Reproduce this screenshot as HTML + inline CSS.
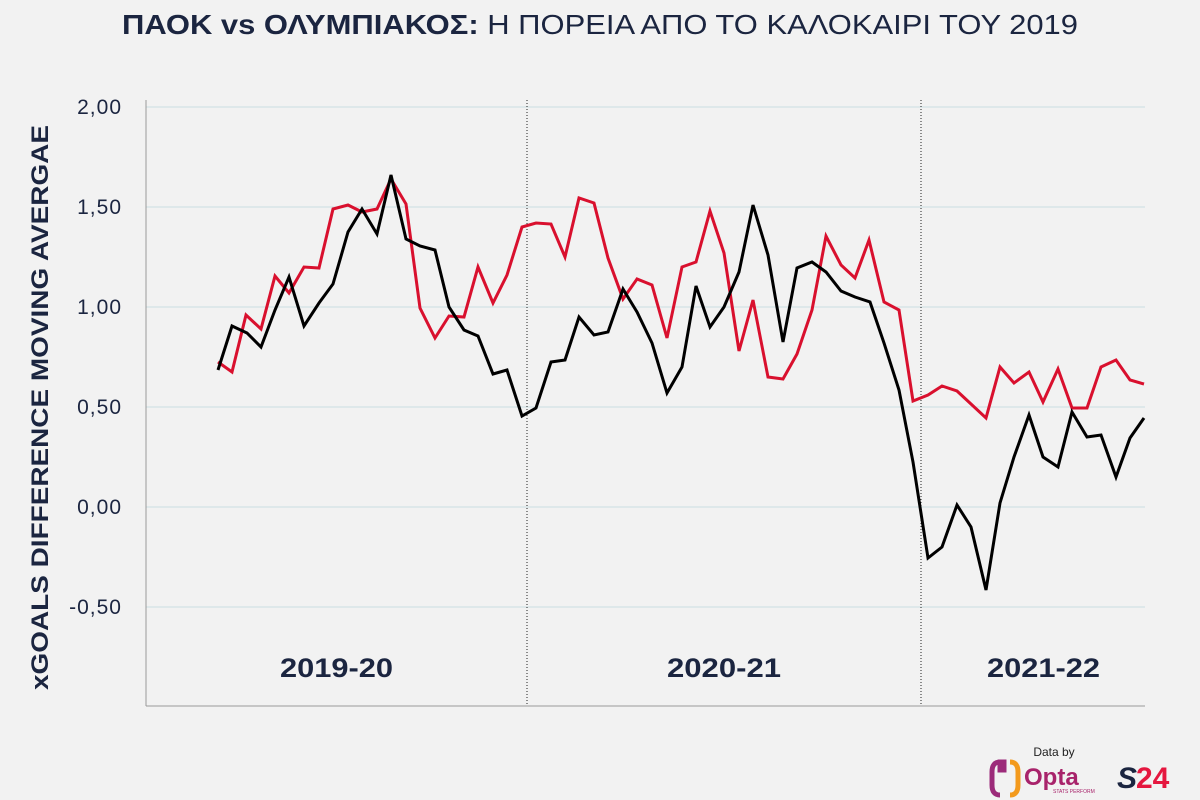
<!DOCTYPE html>
<html><head><meta charset="utf-8"><style>
body{margin:0;background:#f2f2f2;}
svg{display:block;font-family:"Liberation Sans","DejaVu Sans",sans-serif;}
</style></head><body>
<svg width="1200" height="800" viewBox="0 0 1200 800">
<rect width="1200" height="800" fill="#f2f2f2"/>
<text x="122" y="34" font-size="28" fill="#1b2540" textLength="956" lengthAdjust="spacingAndGlyphs"><tspan font-weight="bold">ΠΑΟΚ vs ΟΛΥΜΠΙΑΚΟΣ:</tspan> Η ΠΟΡΕΙΑ ΑΠΟ ΤΟ ΚΑΛΟΚΑΙΡΙ ΤΟΥ 2019</text>
<g stroke="#c9dfe3" stroke-width="1">
<line x1="146" y1="107" x2="1145" y2="107"/>
<line x1="146" y1="207" x2="1145" y2="207"/>
<line x1="146" y1="307" x2="1145" y2="307"/>
<line x1="146" y1="407" x2="1145" y2="407"/>
<line x1="146" y1="507" x2="1145" y2="507"/>
<line x1="146" y1="607" x2="1145" y2="607"/>
</g>
<line x1="146" y1="100" x2="146" y2="706" stroke="#999" stroke-width="1"/>
<line x1="146" y1="706" x2="1145" y2="706" stroke="#999" stroke-width="1"/>
<line x1="527" y1="100" x2="527" y2="706" stroke="#222" stroke-width="1" stroke-dasharray="1,2"/>
<line x1="921" y1="100" x2="921" y2="706" stroke="#222" stroke-width="1" stroke-dasharray="1,2"/>
<g font-size="21" fill="#1b2540" text-anchor="end" letter-spacing="1">
<text x="122" y="114">2,00</text>
<text x="122" y="214">1,50</text>
<text x="122" y="314">1,00</text>
<text x="122" y="414">0,50</text>
<text x="122" y="514">0,00</text>
<text x="122" y="614">-0,50</text>
</g>
<text transform="translate(48,690) rotate(-90)" font-size="24" font-weight="bold" fill="#1b2540" textLength="565" lengthAdjust="spacingAndGlyphs">xGOALS DIFFERENCE MOVING AVERGAE</text>
<g font-size="27" font-weight="bold" fill="#1b2540">
<text x="280" y="677" textLength="113" lengthAdjust="spacingAndGlyphs">2019-20</text>
<text x="667" y="677" textLength="114" lengthAdjust="spacingAndGlyphs">2020-21</text>
<text x="987" y="677" textLength="113" lengthAdjust="spacingAndGlyphs">2021-22</text>
</g>
<polyline fill="none" stroke="#d9102e" stroke-width="3" stroke-linejoin="miter" points="218,362 232,372 246,315 261,329 275,276 289,293 304,267 319,268 333,209 348,205 362,212 377,209 391,179 406,204 420,308 435,338 449,316 464,317 478,267 493,303 507,275 522,227 536,223 551,224 565,257 579,198 594,203 608,258 623,299 637,279 652,285 667,338 682,267 696,262 710,211 724,253 739,351 753,300 768,377 783,379 797,354 812,310 826,236 841,265 855,278 869,240 884,302 899,310 913,401 928,395 942,386 957,391 971,404 986,418 1000,367 1014,383 1029,372 1043,402 1058,369 1072,408 1087,408 1101,367 1116,360 1130,380 1144,384"/>
<polyline fill="none" stroke="#000" stroke-width="3" stroke-linejoin="miter" points="218,370 232,326 247,333 261,347 275,310 289,277 304,326 319,303 333,284 348,232 362,209 377,234 391,175 406,239 420,246 435,250 449,307 464,330 478,336 493,374 507,370 522,416 536,408 551,362 565,360 579,317 594,335 608,332 623,289 637,312 652,343 667,393 682,367 696,286 710,327 724,307 739,272 753,205 768,255 783,342 797,268 812,262 826,272 841,291 855,297 870,302 884,343 899,390 913,462 928,558 942,547 957,505 971,527 986,590 1000,503 1014,457 1029,415 1043,457 1058,467 1072,412 1087,437 1101,435 1116,477 1130,438 1144,418"/>
<text x="1054" y="756" text-anchor="middle" font-size="12" fill="#222">Data by</text>
<path d="M1000,762 q-8,0 -8,10 v13 q0,10 8,10 M1000,762 h4 v8 h-4z" fill="none" stroke="#9c2b7a" stroke-width="5"/>
<path d="M1010,762 q8,0 8,10 v13 q0,10 -8,10" fill="none" stroke="#f39a1d" stroke-width="5"/>
<text x="1024" y="785" font-size="24" font-weight="bold" fill="#a8236b">Opta</text>
<text x="1053" y="793" font-size="5" fill="#a8236b">STATS PERFORM</text>
<text x="1117" y="788" font-size="30" font-weight="bold" fill="#1b2540" font-style="italic">S</text>
<text x="1136" y="788" font-size="30" font-weight="bold" fill="#e5173f">24</text>
</svg>
</body></html>
